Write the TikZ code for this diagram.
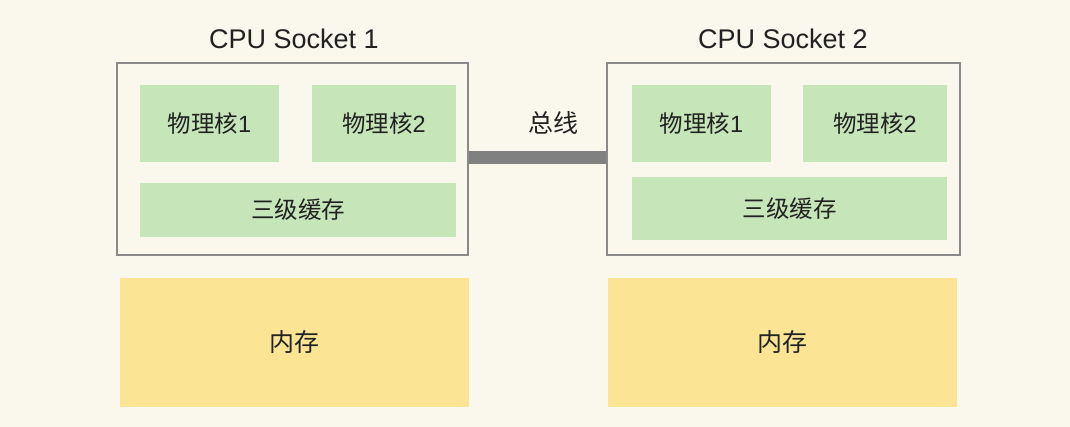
\documentclass[tikz,border=0pt]{standalone}
\usepackage{fontspec}
\setmainfont{Noto Sans CJK SC}
\newfontfamily\latinfont{Liberation Sans}
\definecolor{bg}{HTML}{FAF8EC}
\definecolor{core}{HTML}{C6E6B9}
\definecolor{mem}{HTML}{FBE595}
\definecolor{frame}{HTML}{8A8A8A}
\definecolor{bus}{HTML}{808080}
\definecolor{txt}{HTML}{222222}
\begin{document}
\begin{tikzpicture}[x=1pt,y=-1pt,
  socketbox/.style={draw=frame,line width=2.5pt},
  corebox/.style={fill=core},
  membox/.style={fill=mem},
  lbl/.style={text=txt,font=\fontsize{23.5}{26}\selectfont,inner sep=0pt},
  biglbl/.style={text=txt,font=\fontsize{25}{28}\selectfont,inner sep=0pt},
  ttl/.style={text=txt,font=\latinfont\fontsize{27}{30}\selectfont,inner sep=0pt}]
\fill[bg] (0,0) rectangle (1070,427);
\useasboundingbox (0,0) rectangle (1070,427);
% bus
\coordinate (s1r) at (468,158);
\coordinate (s2l) at (607,158);
\draw[bus,line width=13pt] (s1r) -- (s2l);
% sockets
\draw[socketbox] (117,63) rectangle (468,255);
\draw[socketbox] (607,63) rectangle (960,255);
\node[ttl] (t1) at (294,39) {CPU Socket 1};
\node[ttl] (t2) at (783,39) {CPU Socket 2};
\node[biglbl] (bl) at (553,123) {总线};
% socket 1 contents
\fill[corebox] (140,85) rectangle (279,162);
\node[lbl] (c11) at (209.5,123.5) {物理核{\latinfont 1}};
\fill[corebox] (312,85) rectangle (456,162);
\node[lbl] (c12) at (384,123.5) {物理核{\latinfont 2}};
\fill[corebox] (140,183) rectangle (456,237);
\node[lbl] (l31) at (298,210) {三级缓存};
% socket 2 contents
\fill[corebox] (632,85) rectangle (771,162);
\node[lbl] (c21) at (701.5,123.5) {物理核{\latinfont 1}};
\fill[corebox] (803,85) rectangle (947,162);
\node[lbl] (c22) at (875,123.5) {物理核{\latinfont 2}};
\fill[corebox] (632,177) rectangle (947,240);
\node[lbl] (l32) at (789.5,208.5) {三级缓存};
% memory
\fill[membox] (120,278) rectangle (469,407);
\node[biglbl] (m1) at (294.5,342) {内存};
\fill[membox] (608,278) rectangle (957,407);
\node[biglbl] (m2) at (782.5,342) {内存};
\end{tikzpicture}
\end{document}
